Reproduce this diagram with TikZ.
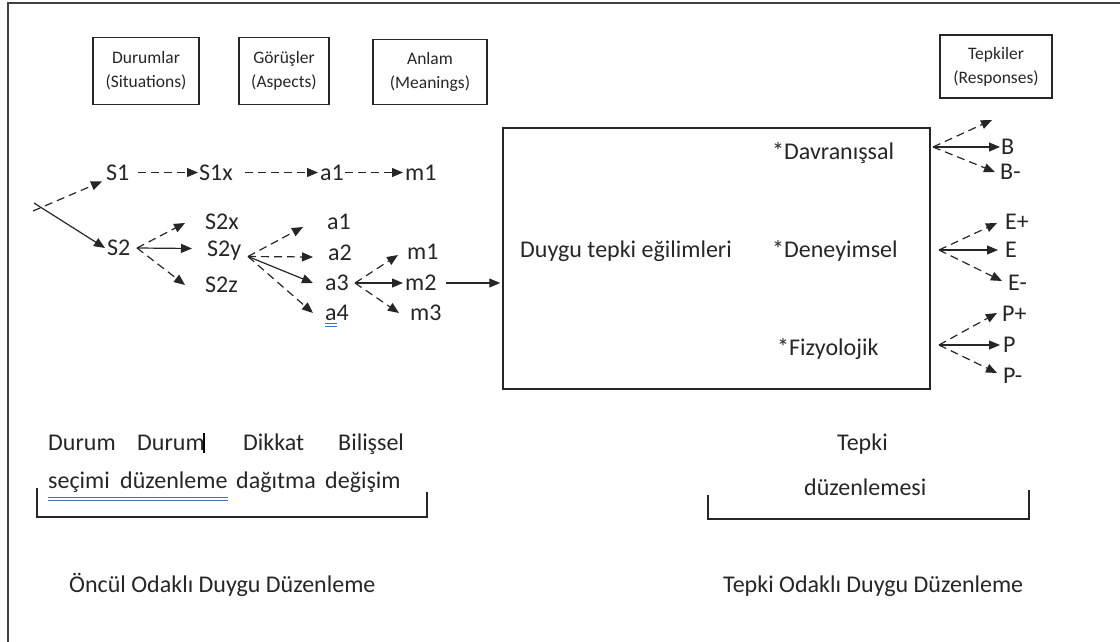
\documentclass[tikz,border=0pt]{standalone}
\usepackage{fontspec}
\setmainfont{Carlito}
\usetikzlibrary{arrows.meta,calc}
\definecolor{ink}{RGB}{38,38,38}
\definecolor{wordblue}{RGB}{68,114,196}
\begin{document}
\begin{tikzpicture}[x=1pt,y=-1pt,
  txt/.style={inner sep=0pt, text=ink, font=\fontsize{24}{28}\selectfont},
  lbl/.style={txt, text height=15.5pt, text depth=0pt, anchor=west},
  wrd/.style={txt, anchor=base west},
  hdr/.style={draw=ink, line width=1.5pt, align=center, inner sep=0pt,
    font=\fontsize{17.5}{24}\selectfont, text=ink},
  link/.style={line width=1.2pt, draw=ink, -{Triangle[length=11pt,width=9pt]}},
  dlink/.style={link, dash pattern=on 8pt off 5pt},
  rule/.style={line width=1.3pt, draw=ink},
]
\useasboundingbox (0,0) rectangle (1120,642);
% page frame: only its top and left edges lie inside the picture
\draw[line width=1.6pt, black!75] (8,660) -- (8,3) -- (1140,3);

% column headings
\node[hdr, minimum width=106pt, minimum height=67pt] (dur) at (146,71) {Durumlar\\(Situations)};
\node[hdr, minimum width=90pt, minimum height=67pt] (gor) at (284,71) {Görüşler\\(Aspects)};
\node[hdr, minimum width=114pt, minimum height=65pt] (anl) at (430,72) {Anlam\\(Meanings)};
\node[hdr, minimum width=112pt, minimum height=63pt] (tep) at (996,66.5) {Tepkiler\\(Responses)};

% central box
\node[draw=ink, line width=1.5pt, minimum width=427pt, minimum height=261pt, inner sep=0pt] (box) at (716.5,258.5) {};
\node[wrd] (eg) at (520,257) {Duygu tepki eğilimleri};
\node[wrd] (dav) at (772,159) {*Davranışsal};
\node[wrd] (den) at (772,257) {*Deneyimsel};
\node[wrd] (fiz) at (777,355) {*Fizyolojik};

% situation tree
\coordinate (o1) at (33,211);
\coordinate (o2) at (34,203);
\node[lbl] (S1) at (106,172.5) {S1};
\node[lbl] (S1x) at (199,172.5) {S1x};
\node[lbl] (a1t) at (320,172.5) {a1};
\node[lbl] (m1t) at (405,172.5) {m1};
\node[lbl] (S2) at (107,248) {S2};
\node[lbl] (S2x) at (205,222) {S2x};
\node[lbl] (S2y) at (207,248.5) {S2y};
\node[lbl] (S2z) at (205,285) {S2z};
\node[lbl] (a1) at (327,222) {a1};
\node[lbl] (a2) at (328,253) {a2};
\node[lbl] (a3) at (325,283) {a3};
\node[lbl] (a4) at (325,313) {a4};
\node[lbl] (m1) at (407,252) {m1};
\node[lbl] (m2) at (405,283) {m2};
\node[lbl] (m3) at (410,313) {m3};

\draw[dlink] (o1) -- ($(S1.south west)+(-4,1)$);
\draw[link] (o2) -- ($(S2.west)+(-2,0)$);
\draw[dlink, shorten <=8pt, shorten >=1pt] (S1) -- (S1x);
\draw[dlink, shorten <=12pt, shorten >=2pt] (S1x) -- (a1t);
\draw[dlink, shorten <=1pt, shorten >=2pt] (a1t) -- (m1t);

\coordinate (s2o) at (137,248);
\draw[dlink] (s2o) -- ($(S2x.west)+(-20,1)$);
\draw[link] (s2o) -- ($(S2y.west)+(-15,0)$);
\draw[dlink] (s2o) -- ($(S2z.west)+(-20,0)$);

\coordinate (s2yo) at (248,256.5);
\draw[dlink] (s2yo) -- ($(a1.west)+(-24,5)$);
\draw[dlink] (s2yo) -- ($(a2.west)+(-15,4)$);
\draw[link] (s2yo) -- ($(a3.west)+(-12,0)$);
\draw[dlink] (s2yo) -- ($(a4.west)+(-12,0)$);
\draw[wordblue, line width=1pt] ($(a4.south west)+(0,2.5)$) -- ++(11.5,0);
\draw[wordblue, line width=1pt] ($(a4.south west)+(0,5.5)$) -- ++(11.5,0);

\coordinate (a3o) at (355,283);
\draw[dlink] (a3o) -- ($(m1.west)+(-9,3)$);
\draw[link] (a3o) -- ($(m2.west)+(-2,0)$);
\draw[dlink] (a3o) -- ($(m3.west)+(-11,0)$);
\draw[link, shorten <=9pt, shorten >=2pt] (m2.east) -- (m2.east -| box.west);

% responses
\node[lbl] (B) at (1001,147) {B};
\node[lbl] (Bm) at (1000,172) {B-};
\node[lbl] (Ep) at (1005,222) {E+};
\node[lbl] (E) at (1005,250) {E};
\node[lbl] (Em) at (1008,283) {E-};
\node[lbl] (Pp) at (1002,314) {P+};
\node[lbl] (P) at (1003,345) {P};
\node[lbl] (Pm) at (1003,376) {P-};
\coordinate (bo) at (933,147);
\coordinate (eo) at (939,250);
\coordinate (po) at (939,345);
\coordinate (Bp) at (992,120);
\draw[dlink] (bo) -- (Bp);
\draw[link] (bo) -- ($(B.west)+(-1,0)$);
\draw[dlink] (bo) -- ($(Bm.west)+(-5,0)$);
\draw[dlink] (eo) -- ($(Ep.west)+(-8,1)$);
\draw[link] (eo) -- ($(E.west)+(-7,0)$);
\draw[dlink] (eo) -- ($(Em.west)+(-6,-2)$);
\draw[dlink] (po) -- ($(Pp.west)+(-5,-1)$);
\draw[link] (po) -- ($(P.west)+(-3,0)$);
\draw[dlink] (po) -- ($(Pm.west)+(-6,-3)$);

% antecedent-focused strategies
\node[wrd] (dur1) at (48,450) {Durum};
\node[wrd] (dur2) at (137,450) {Durum};
\draw[line width=1.3pt, black] (204,433) -- (204,453);
\node[wrd] (dik) at (243,450) {Dikkat};
\node[wrd] (bil) at (338,450) {Bilişsel};
\node[wrd] (sec) at (48,488) {seçimi};
\node[wrd] (duz) at (120,488) {düzenleme};
\node[wrd] (dag) at (236,488) {dağıtma};
\node[wrd] (deg) at (325,488) {değişim};
\draw[wordblue, line width=1pt] ($(sec.base west)+(0,9)$) -- ($(duz.base east)+(0,9)$);
\draw[wordblue, line width=1pt] ($(sec.base west)+(0,12)$) -- ($(duz.base east)+(0,12)$);
\draw[rule] (37,488) -- (37,517) -- (427,517) -- (427,492);
\node[wrd] (onc) at (69,592) {Öncül Odaklı Duygu Düzenleme};

% response-focused strategy
\node[wrd] (tpk) at (837,450) {Tepki};
\node[wrd] (tdz) at (804,495) {düzenlemesi};
\draw[rule] (708,495) -- (708,519) -- (1029,519) -- (1029,490);
\node[wrd] (tod) at (723,592) {Tepki Odaklı Duygu Düzenleme};
\end{tikzpicture}
\end{document}
